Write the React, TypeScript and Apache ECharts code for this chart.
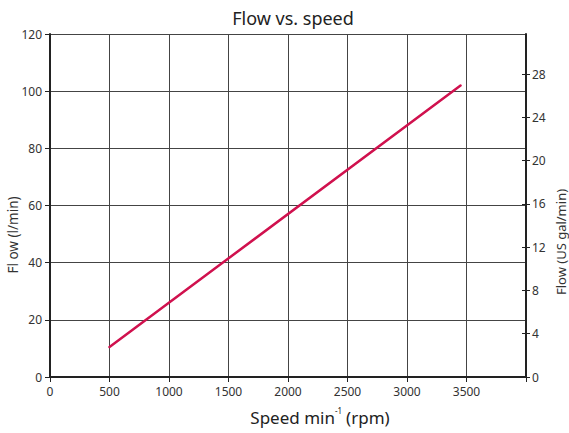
import React, { useEffect, useRef } from "react";
import * as echarts from "echarts";

const speedRpm = [500, 3450];
const flowLpm = [10.5, 102];
const rightTicks = [0, 4, 8, 12, 16, 20, 24, 28];
const titleText = "Flow vs. speed";
const xName = "Speed min{sup|-1}(rpm)";
const leftName = "Fl ow (l/min)";
const rightName = "Flow (US gal/min)";

const FONT = "Noto Sans";
const LPM_PER_GAL = 3.785;

export default function App() {
  const ref = useRef<HTMLDivElement>(null);
  useEffect(() => {
    const chart = echarts.init(ref.current!, null, { renderer: "svg" });
    const gridLeft = 50, gridRight = 43, gridTop = 34, gridBottom = 56;
    const labelStyle = { fontFamily: FONT, fontSize: 12, color: "#333" };
    chart.setOption({
      animation: false,
      title: {
        text: titleText,
        left: 288,
        top: 4,
        textAlign: "center",
        textStyle: { fontFamily: FONT, fontSize: 18, fontWeight: "normal", color: "#222" },
      },
      grid: { left: gridLeft, right: gridRight, top: gridTop, bottom: gridBottom },
      xAxis: {
        type: "value",
        min: 0,
        max: 4000,
        interval: 500,
        axisLine: { show: true, lineStyle: { color: "#222", width: 2 } },
        axisTick: { show: true, length: 5, lineStyle: { color: "#222", width: 1 } },
        axisLabel: {
          ...labelStyle,
          margin: 8,
          formatter: (v: number) => (v === 4000 ? "" : String(v)),
        },
        splitLine: { show: true, lineStyle: { color: "#444", width: 1 } },
      },
      yAxis: [
        {
          type: "value",
          position: "left",
          min: 0,
          max: 120,
          interval: 20,
          axisLine: { show: true, lineStyle: { color: "#222", width: 2 } },
          axisTick: { show: true, length: 5, lineStyle: { color: "#222", width: 1 } },
          axisLabel: { ...labelStyle, margin: 8 },
          splitLine: { show: true, lineStyle: { color: "#444", width: 1 } },
        },
        {
          type: "value",
          position: "right",
          min: 0,
          max: 120 / LPM_PER_GAL,
          axisLine: { show: true, lineStyle: { color: "#222", width: 2 } },
          axisTick: {
            show: true,
            length: 4,
            customValues: rightTicks,
            lineStyle: { color: "#222", width: 1 },
          },
          axisLabel: { ...labelStyle, margin: 6, customValues: rightTicks },
          splitLine: { show: false },
        },
        {
          type: "value",
          position: "right",
          min: 0,
          max: 120 / LPM_PER_GAL,
          axisLine: { show: false },
          axisTick: {
            show: true,
            inside: true,
            length: 4,
            customValues: rightTicks,
            lineStyle: { color: "#222", width: 1 },
          },
          axisLabel: { show: false },
          splitLine: { show: false },
        },
      ],
      graphic: [
        {
          type: "text",
          x: 320,
          y: 417,
          style: {
            text: xName,
            align: "center",
            verticalAlign: "middle",
            fontFamily: FONT,
            fontSize: 17,
            fill: "#222",
            rich: {
              sup: { fontSize: 8, fontFamily: FONT, fill: "#222", verticalAlign: "top", lineHeight: 22, padding: [0, 4, 11, 0] },
            },
          },
        },
        {
          type: "text",
          x: 13,
          y: 235,
          rotation: Math.PI / 2,
          style: {
            text: leftName,
            align: "center",
            verticalAlign: "middle",
            fontFamily: FONT,
            fontSize: 13.5,
            fill: "#333",
          },
        },
        {
          type: "text",
          x: 561,
          y: 242,
          rotation: Math.PI / 2,
          style: {
            text: rightName,
            align: "center",
            verticalAlign: "middle",
            fontFamily: FONT,
            fontSize: 13,
            fill: "#333",
          },
        },
      ],
      series: [
        {
          type: "line",
          yAxisIndex: 0,
          data: speedRpm.map((s, i) => [s, flowLpm[i]]),
          symbol: "none",
          lineStyle: { color: "#d0114e", width: 2.5, cap: "round" },
        },
      ],
    });
    return () => chart.dispose();
  }, []);
  return <div ref={ref} style={{ width: 569, height: 433, position: "absolute", left: 0, top: 0 }} />;
}
